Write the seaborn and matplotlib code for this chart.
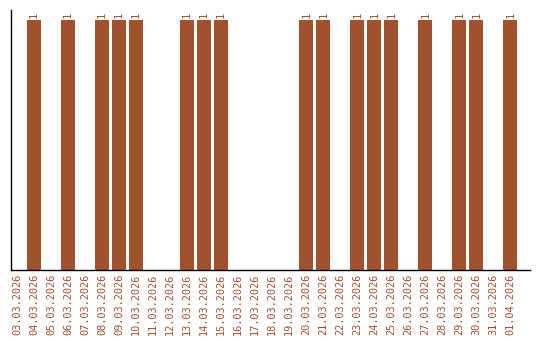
import matplotlib
matplotlib.use("Agg")
import matplotlib.pyplot as plt
import seaborn as sns
import pandas as pd

dates = ["03.03.2026", "04.03.2026", "05.03.2026", "06.03.2026", "07.03.2026",
         "08.03.2026", "09.03.2026", "10.03.2026", "11.03.2026", "12.03.2026",
         "13.03.2026", "14.03.2026", "15.03.2026", "16.03.2026", "17.03.2026",
         "18.03.2026", "19.03.2026", "20.03.2026", "21.03.2026", "22.03.2026",
         "23.03.2026", "24.03.2026", "25.03.2026", "26.03.2026", "27.03.2026",
         "28.03.2026", "29.03.2026", "30.03.2026", "31.03.2026", "01.04.2026"]
counts = [0, 1, 0, 1, 0, 1, 1, 1, 0, 0, 1, 1, 1, 0, 0, 0, 0, 1, 1, 0,
          1, 1, 1, 0, 1, 0, 1, 1, 0, 1]

color = "#A0522D"
sns.set_style("white")
plt.rcParams['font.family'] = ['DejaVu Sans Mono', 'DejaVu Sans']

df = pd.DataFrame({"date": dates, "count": counts})
fig = plt.figure(figsize=(5.4, 3.4), dpi=100)
ax = fig.add_axes([11/540, 70/340, 519/540, 260/340])
sns.barplot(data=df, x="date", y="count", color=color, saturation=1, width=0.82,
            linewidth=0, edgecolor="none", ax=ax)

for i, v in enumerate(counts):
    if v > 0:
        ax.text(i, v + 0.01, str(v), rotation=90, ha="center", va="bottom",
                fontsize=7.5, color=color)

ax.set_xlim(-0.35, 30.15)
ax.set_ylim(0, 1.04)
ax.set_xlabel("")
ax.set_ylabel("")
ax.set_yticks([])
ax.tick_params(axis="x", length=0, pad=3, labelsize=7.4, labelcolor=color)
for lbl in ax.get_xticklabels():
    lbl.set_rotation(90)
for s in ["top", "right"]:
    ax.spines[s].set_visible(False)
for s in ["left", "bottom"]:
    ax.spines[s].set_color("black")
    ax.spines[s].set_linewidth(1)

fig.savefig("out.png", dpi=100)
